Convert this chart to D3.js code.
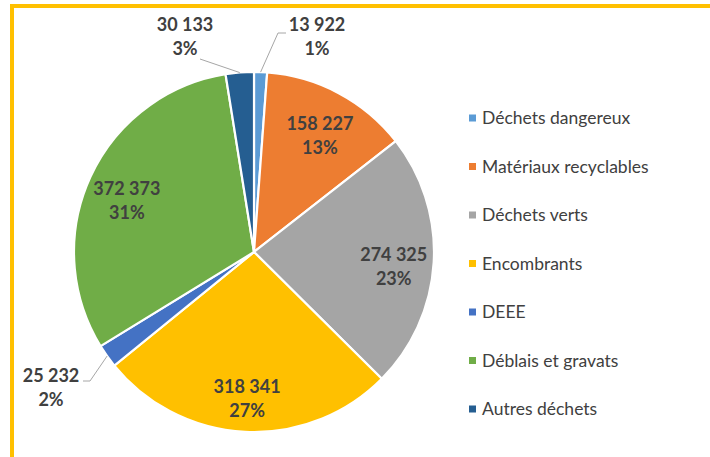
<!DOCTYPE html>
<html>
<head>
<meta charset="utf-8">
<script src="https://cdn.jsdelivr.net/npm/d3@7"></script>
<style>
  body { margin: 0; background: #fff; }
  svg { display: block; font-family: Lato, "Open Sans", sans-serif; }
</style>
</head>
<body>
<script>
// data
var categories = ["Déchets dangereux", "Matériaux recyclables", "Déchets verts", "Encombrants", "DEEE", "Déblais et gravats", "Autres déchets"];
var values = [13922, 158227, 274325, 318341, 25232, 372373, 30133];
var valueLabels = ["13 922", "158 227", "274 325", "318 341", "25 232", "372 373", "30 133"];
var colors = ["#5B9BD5", "#ED7D31", "#A5A5A5", "#FFC000", "#4472C4", "#70AD47", "#255E91"];

var width = 710, height = 457;
var cx = 254, cy = 252, radius = 180;

var svg = d3.select("body").append("svg")
    .attr("width", width)
    .attr("height", height);

// yellow frame (top and left)
svg.append("rect").attr("x", 10).attr("y", 4).attr("width", width - 10).attr("height", 4).attr("fill", "#FFC000");
svg.append("rect").attr("x", 10).attr("y", 4).attr("width", 4).attr("height", height - 4).attr("fill", "#FFC000");

var total = d3.sum(values);
var data = values.map(function(v, i) {
    return {name: categories[i], value: v, label: valueLabels[i], color: colors[i]};
});

var pie = d3.pie().sort(null).value(function(d) { return d.value; });
var arcs = pie(data);

var arc = d3.arc().innerRadius(0).outerRadius(radius);
var labelArc = d3.arc().innerRadius(140 * 2 - radius).outerRadius(radius); // centroid at r=140

var g = svg.append("g").attr("transform", "translate(" + cx + "," + cy + ")");

g.selectAll("path")
    .data(arcs)
    .enter()
    .append("path")
    .attr("d", arc)
    .attr("fill", function(d) { return d.data.color; })
    .attr("stroke", "#fff")
    .attr("stroke-width", 2.2);

// inside labels for big slices, outside with leader for small ones
// offsets of outside label (text centre x, first baseline y) relative to pie centre
var outside = {
    "Déchets dangereux": {tx: 63, ty: -221, line: [[32, -219], [24, -219]]},
    "Autres déchets": {tx: -69, ty: -221, line: [[-54, -193]]},
    "DEEE": {tx: -203, ty: 130, line: [[-171, 129], [-164, 129]]}
};

var labelColor = "#404040";

arcs.forEach(function(d) {
    var pct = Math.round(d.data.value / total * 100) + "%";
    var o = outside[d.data.name];
    var tx, ty;
    if (o) {
        var mid = (d.startAngle + d.endAngle) / 2;
        var p0 = [radius * Math.sin(mid), -radius * Math.cos(mid)];
        var pts = [p0].concat(o.line.slice().reverse());
        g.append("path")
            .attr("d", d3.line()(pts))
            .attr("fill", "none")
            .attr("stroke", "#A6A6A6")
            .attr("stroke-width", 1);
        tx = o.tx; ty = o.ty;
    } else {
        var c = labelArc.centroid(d);
        tx = c[0]; ty = c[1] + 1;
    }
    var t = g.append("text")
        .attr("text-anchor", "middle")
        .attr("font-weight", "bold")
        .attr("font-size", 18)
        .attr("fill", labelColor);
    t.append("tspan").attr("x", tx).attr("y", ty).text(d.data.label);
    t.append("tspan").attr("x", tx).attr("y", ty + 24).text(pct);
});

// legend
var legend = svg.append("g").attr("transform", "translate(469,118)");
var item = legend.selectAll("g")
    .data(data)
    .enter()
    .append("g")
    .attr("transform", function(d, i) { return "translate(0," + (i * 48.5) + ")"; });

item.append("rect")
    .attr("x", 0).attr("y", -3.5)
    .attr("width", 7).attr("height", 7)
    .attr("fill", function(d) { return d.color; });

item.append("text")
    .attr("x", 13)
    .attr("y", 6)
    .attr("font-size", 17.5)
    .attr("fill", labelColor)
    .text(function(d) { return d.name; });
</script>
</body>
</html>
